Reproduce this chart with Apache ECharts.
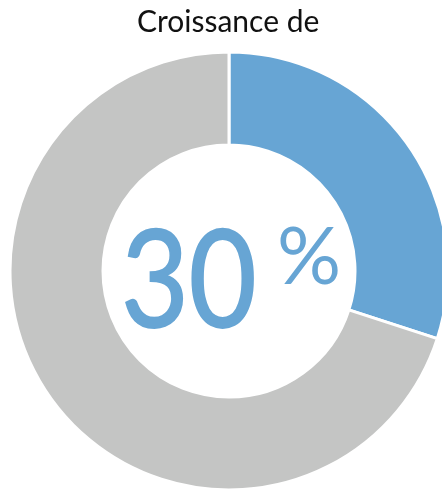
<!DOCTYPE html>
<html><head><meta charset="utf-8">
<script src="https://cdn.jsdelivr.net/npm/echarts@6/dist/echarts.min.js"></script>
<style>html,body{margin:0;padding:0;background:#fff}#c{width:442px;height:492px}</style>
</head><body><div id="c"></div>
<script>
var categories = ["Croissance", "Reste"];
var values = [30, 70];
var colors = ["#67a5d4", "#c4c5c4"];
var titleText = "Croissance de";
var centerNumber = "30";
var centerUnit = "%";

var chart = echarts.init(document.getElementById('c'), null, {renderer: 'canvas'});
chart.setOption({
  animation: false,
  title: {
    text: titleText, left: 132, top: 2,
    textStyle: {fontFamily: 'Lato', fontWeight: 'normal', fontSize: 30, color: '#111'}
  },
  graphic: [{
    type: 'text', x: 121, y: 215, scaleX: 0.86, z: 100,
    style: {
      text: centerNumber, fontFamily: 'Lato', fontSize: 136, fill: '#67a5d4',
      stroke: '#67a5d4', lineWidth: 1.8,
      align: 'left', verticalAlign: 'top'
    }
  }, {
    type: 'text', x: 277, y: 218, z: 100,
    style: {
      text: centerUnit, fontFamily: 'Lato', fontSize: 80, fill: '#67a5d4',
      align: 'left', verticalAlign: 'top'
    }
  }],
  series: [{
    type: 'pie', center: [229, 271], radius: [126, 219], startAngle: 90, clockwise: true,
    label: {show: false}, labelLine: {show: false}, silent: true,
    itemStyle: {borderColor: '#fff', borderWidth: 3},
    data: categories.map(function (c, i) { return {name: c, value: values[i], itemStyle: {color: colors[i]}}; })
  }]
});
</script></body></html>
